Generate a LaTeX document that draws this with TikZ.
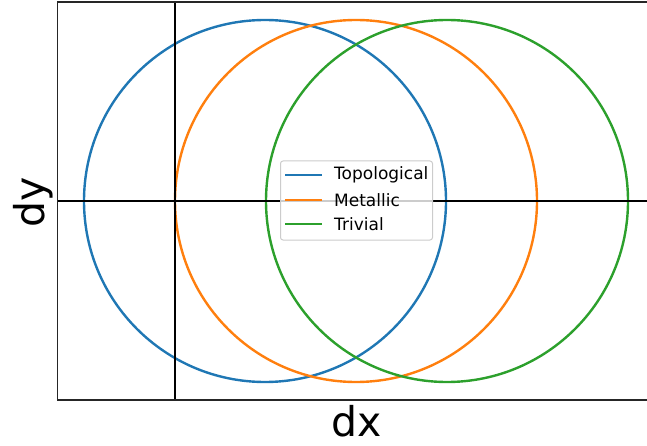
\documentclass[tikz,border=0pt]{standalone}
\usepackage{fontspec}
\setmainfont{DejaVu Sans}
\definecolor{tabblue}{HTML}{1F77B4}
\definecolor{taborange}{HTML}{FF7F0E}
\definecolor{tabgreen}{HTML}{2CA02C}
\begin{document}
\begin{tikzpicture}[x=1pt,y=-1pt,
  circ/.style={line width=2.4pt},
  axisline/.style={line width=2.4pt,black},
  frameline/.style={line width=1.4pt,black!85},
  legtext/.style={anchor=west,inner sep=0pt,font=\fontsize{17}{20}\selectfont},
  axlabel/.style={inner sep=0pt,font=\fontsize{41}{48}\selectfont}]
\useasboundingbox (0,0) rectangle (647,446);
\coordinate (cb) at (265,201);
\coordinate (co) at (356,201);
\coordinate (cg) at (447,201);
\draw[circ,tabblue] (cb) circle[radius=181];
\draw[circ,taborange] (co) circle[radius=181];
\draw[circ,tabgreen] (cg) circle[radius=181];
% axis lines
\coordinate (vt) at (175,2);
\coordinate (vb) at (175,400);
\coordinate (hl) at (57.5,201);
\coordinate (hr) at (647,201);
\draw[axisline] (vt) -- (vb);
\draw[axisline] (hl) -- (hr);
% frame
\coordinate (fbl) at (57.5,400);
\coordinate (ftl) at (57.5,2);
\coordinate (ftr) at (647,2);
\coordinate (fbr) at (647,400);
\draw[frameline] (fbr) -- (fbl) -- (ftl) -- (ftr);
% legend
\node[draw=black!20,line width=1pt,fill=white,fill opacity=0.8,rounded corners=2.5pt,
  minimum width=152pt,minimum height=79pt,inner sep=0pt] (leg) at (356.5,200.5) {};
\coordinate (l1a) at (285,175); \coordinate (l1b) at (322,175);
\coordinate (l2a) at (285,200); \coordinate (l2b) at (322,200);
\coordinate (l3a) at (285,224); \coordinate (l3b) at (322,224);
\draw[circ,tabblue] (l1a) -- (l1b);
\draw[circ,taborange] (l2a) -- (l2b);
\draw[circ,tabgreen] (l3a) -- (l3b);
\node[legtext] (t1) at (334,175) {Topological};
\node[legtext] (t2) at (334,200) {Metallic};
\node[legtext] (t3) at (334,224) {Trivial};
\node[axlabel] (dx) at (357,421) {dx};
\node[axlabel,rotate=90] (dy) at (33,202) {dy};
\end{tikzpicture}
\end{document}
